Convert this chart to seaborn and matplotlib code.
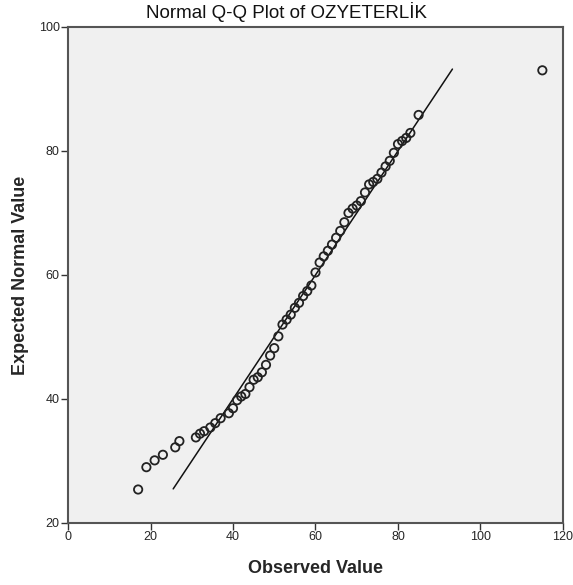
import numpy as np
import pandas as pd
import matplotlib
matplotlib.use('Agg')
import matplotlib.pyplot as plt
import seaborn as sns

# observed values (distinct) and their expected normal quantiles
observed = [17, 19, 21, 23, 26, 27, 31, 32, 33, 34.5, 35.7, 37, 39, 40, 41, 42, 43, 44,
            45, 46, 47, 48, 49, 50, 51, 52, 53, 54, 55, 56, 57, 58, 59, 60, 61, 62, 63,
            64, 65, 66, 67, 68, 69, 70, 71, 72, 73, 74, 75, 76, 77, 78, 79, 80, 81, 82,
            83, 85, 115]
expected = [25.4, 29.0, 30.1, 31.0, 32.2, 33.2, 33.8, 34.4, 34.8, 35.4, 36.1, 36.9, 37.7,
            38.5, 39.8, 40.4, 40.8, 41.9, 43.1, 43.5, 44.3, 45.5, 47.0, 48.2, 50.1, 52.0,
            52.8, 53.6, 54.7, 55.5, 56.6, 57.4, 58.3, 60.4, 62.0, 63.0, 63.9, 64.9, 66.0,
            67.1, 68.5, 70.0, 70.7, 71.2, 71.9, 73.3, 74.6, 75.0, 75.5, 76.5, 77.5, 78.4,
            79.7, 81.1, 81.6, 82.1, 82.9, 85.8, 93.0]
line_ends = [25.5, 93.2]

x_ticks = [0, 20, 40, 60, 80, 100, 120]
y_ticks = [20, 40, 60, 80, 100]

df = pd.DataFrame({'obs': observed, 'exp': expected})
ref = pd.DataFrame({'x': line_ends, 'y': line_ends})

sns.set_theme(style='white')
plt.rcParams['font.family'] = ['Liberation Sans', 'DejaVu Sans']

fig = plt.figure(figsize=(5.73, 5.85), dpi=100)
ax = fig.add_axes([0.1187, 0.106, 0.8638, 0.848])
ax.set_facecolor('#F0F0F0')

sns.lineplot(data=ref, x='x', y='y', color='#111111', linewidth=1.1, ax=ax)
sns.scatterplot(data=df, x='obs', y='exp', marker='o', s=36, facecolor='none',
                edgecolor='#222222', linewidth=1.3, ax=ax, zorder=3)

ax.set_xlim(0, 120)
ax.set_ylim(20, 100)
ax.set_xticks(x_ticks)
ax.set_yticks(y_ticks)
ax.tick_params(axis='both', which='both', direction='out', length=5, width=1,
               color='#333333', labelsize=9, pad=1, bottom=True, left=True)
for sp in ax.spines.values():
    sp.set_color('#555555')
    sp.set_linewidth(1.5)

ax.set_xlabel('Observed Value', fontsize=13, fontweight='bold', labelpad=12)
ax.set_ylabel('Expected Normal Value', fontsize=13, fontweight='bold', labelpad=7)
fig.suptitle('Normal Q-Q Plot of OZYETERLİK', fontsize=13.5, x=0.5, y=0.997,
             color='#111111')

fig.savefig('out.png', dpi=100)
